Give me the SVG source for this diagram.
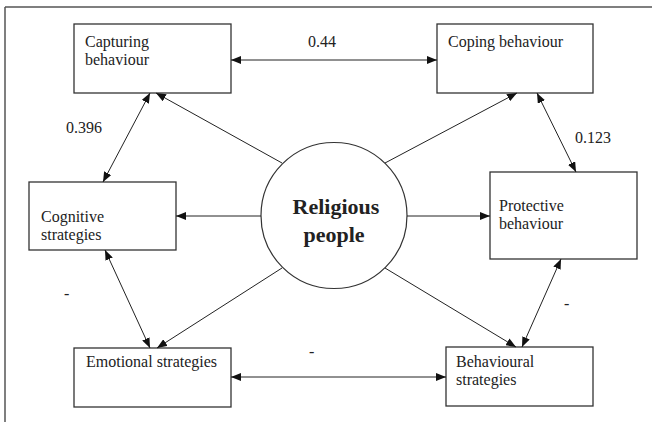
<svg xmlns="http://www.w3.org/2000/svg" width="652" height="422" viewBox="0 0 652 422">
<style>
.box{fill:#fff;stroke:#333;stroke-width:1.3}
.t{font-family:"Liberation Serif","Times New Roman",serif;font-size:16px;fill:#222}
.b{font-family:"Liberation Serif","Times New Roman",serif;font-size:22px;font-weight:bold;fill:#222;text-anchor:middle}
.c line{stroke:#222;stroke-width:1}
.one{marker-end:url(#ah)}
.two{marker-start:url(#ah);marker-end:url(#ah)}
</style>
<defs>
<marker id="ah" markerUnits="userSpaceOnUse" markerWidth="10" markerHeight="8" refX="10" refY="4" orient="auto-start-reverse">
<path d="M0,0 L10,4 L0,8 z" fill="#111"/>
</marker>
</defs>
<g id="frame" stroke="#555" stroke-width="1.5" fill="none">
<line x1="5" y1="7" x2="652" y2="7"/>
<line x1="5" y1="7" x2="5" y2="422"/>
</g>
<g id="capturing"><rect class="box" x="74" y="24" width="157" height="69"/><text class="t" x="85" y="47">Capturing</text><text class="t" x="85" y="65">behaviour</text></g>
<g id="coping"><rect class="box" x="437" y="24" width="156" height="69"/><text class="t" x="448" y="47">Coping behaviour</text></g>
<g id="cognitive"><rect class="box" x="29" y="182" width="147" height="68"/><text class="t" x="41" y="222">Cognitive</text><text class="t" x="41" y="240">strategies</text></g>
<g id="protective"><rect class="box" x="490" y="172" width="147" height="87"/><text class="t" x="499" y="211">Protective</text><text class="t" x="499" y="229">behaviour</text></g>
<g id="emotional"><rect class="box" x="74" y="348" width="157" height="59"/><text class="t" x="86" y="367">Emotional strategies</text></g>
<g id="behavioural"><rect class="box" x="446" y="347" width="147" height="59"/><text class="t" x="456" y="367">Behavioural</text><text class="t" x="456" y="385">strategies</text></g>
<g id="religious"><circle cx="334" cy="215.5" r="73" fill="#fff" stroke="#333" stroke-width="1.2"/><text class="b" x="336" y="214">Religious</text><text class="b" x="334" y="242">people</text></g>
<g id="connectors" class="c">
<line class="two" x1="231" y1="60" x2="437" y2="60"/>
<line class="two" x1="231" y1="377" x2="446" y2="377"/>
<line class="one" x1="261" y1="216" x2="176" y2="216"/>
<line class="one" x1="407" y1="216" x2="490" y2="216"/>
<line class="one" x1="282" y1="163" x2="156" y2="93"/>
<line class="one" x1="385" y1="163" x2="517" y2="93"/>
<line class="one" x1="282" y1="268" x2="157" y2="348"/>
<line class="one" x1="385" y1="268" x2="516" y2="347"/>
<line class="two" x1="150" y1="93" x2="103" y2="182"/>
<line class="two" x1="537" y1="93" x2="576" y2="172"/>
<line class="two" x1="105" y1="250" x2="150" y2="348"/>
<line class="two" x1="561" y1="259" x2="522" y2="347"/>
</g>
<g id="labels">
<text class="t" x="308" y="47">0.44</text>
<text class="t" x="66" y="133">0.396</text>
<text class="t" x="575" y="143">0.123</text>
<text class="t" x="64" y="299">-</text>
<text class="t" x="564" y="309">-</text>
<text class="t" x="309" y="357">-</text>
</g>
</svg>
